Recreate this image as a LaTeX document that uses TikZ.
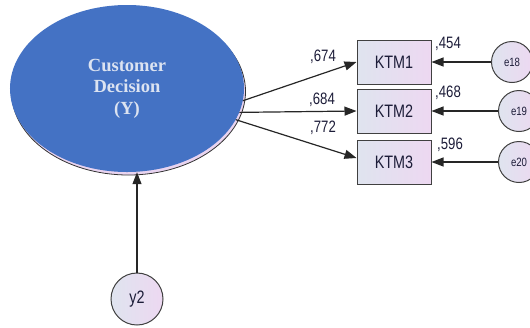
\documentclass[tikz,border=0pt]{standalone}
\usepackage{fontspec}
\setmainfont{Liberation Sans}
\newfontfamily\narrowsans[FakeStretch=0.8]{Liberation Sans}
\newfontfamily\titleserif{Liberation Serif}
\usetikzlibrary{arrows.meta,shapes.geometric}
\definecolor{latentblue}{HTML}{4472C4}
\definecolor{shadowpink}{HTML}{E9D4F0}
\definecolor{fillL}{HTML}{DFE4EF}
\definecolor{fillR}{HTML}{EDD8F1}
\definecolor{inkdark}{HTML}{1C1C38}
\definecolor{titlewhite}{HTML}{DCE3F1}
\begin{document}
\begin{tikzpicture}[x=1bp,y=-1bp,
  obs/.style={rectangle, draw=black!75, line width=1bp, minimum width=74bp,
    minimum height=44bp, inner sep=0pt, left color=fillL, right color=fillR,
    text=inkdark, font=\narrowsans\fontsize{18bp}{20bp}\selectfont},
  errc/.style={circle, draw=black!75, line width=1bp, minimum size=41bp,
    inner sep=0pt, left color=fillL, right color=fillR, text=inkdark,
    font=\narrowsans\fontsize{12bp}{13bp}\selectfont},
  coef/.style={text=inkdark, inner sep=0pt, anchor=base west,
    font=\narrowsans\fontsize{16.5bp}{18bp}\selectfont},
  link/.style={line width=1.2bp, draw=black!85,
    -{Triangle[length=12bp,width=9bp]}}
]
\useasboundingbox (0,0) rectangle (530,327);

% latent variable with its offset shadow
\draw[fill=shadowpink, draw=black!80, line width=0.8bp]
  (128.5,91.5) ellipse [x radius=117bp, y radius=83.5bp];
\node[ellipse, fill=latentblue, minimum width=234bp, minimum height=167bp,
  inner sep=0pt, align=center, text=titlewhite,
  font=\titleserif\bfseries\fontsize{18.5bp}{21.5bp}\selectfont]
  (Y) at (127,88.5) {Customer\\Decision\\(Y)};

% indicators
\node[obs] (K1) at (394,62) {KTM1};
\node[obs] (K2) at (394,111) {KTM2};
\node[obs] (K3) at (394,162) {KTM3};

% error terms
\node[errc] (e18) at (512,62) {e18};
\node[errc] (e19) at (519,111) {e19};
\node[errc] (e20) at (519,162) {e20};

% disturbance
\node[circle, draw=black!75, line width=1bp, minimum size=52bp, inner sep=0pt,
  left color=fillL, right color=fillR, text=inkdark,
  font=\narrowsans\fontsize{18bp}{19bp}\selectfont] (y2) at (137,299) {y2};

% loadings
\draw[link] (Y.-6.6) -- (K1.west);
\draw[link] (Y.-12.2) -- (K2.west);
\draw[link] (Y.-16.9) -- ([yshift=4bp]K3.west);

% error paths
\draw[link] (e18.west) -- (K1.east);
\draw[link] (e19.west) -- (K2.east);
\draw[link] (e20.west) -- (K3.east);

\draw[link] (y2.north) -- (y2 |- Y.south);

% coefficients
\node[coef] (c1) at (310,61) {,674};
\node[coef] (c2) at (309,104) {,684};
\node[coef] (c3) at (310,132) {,772};
\node[coef] (r1) at (435,48) {,454};
\node[coef] (r2) at (435,97) {,468};
\node[coef] (r3) at (437,149) {,596};
\end{tikzpicture}
\end{document}
